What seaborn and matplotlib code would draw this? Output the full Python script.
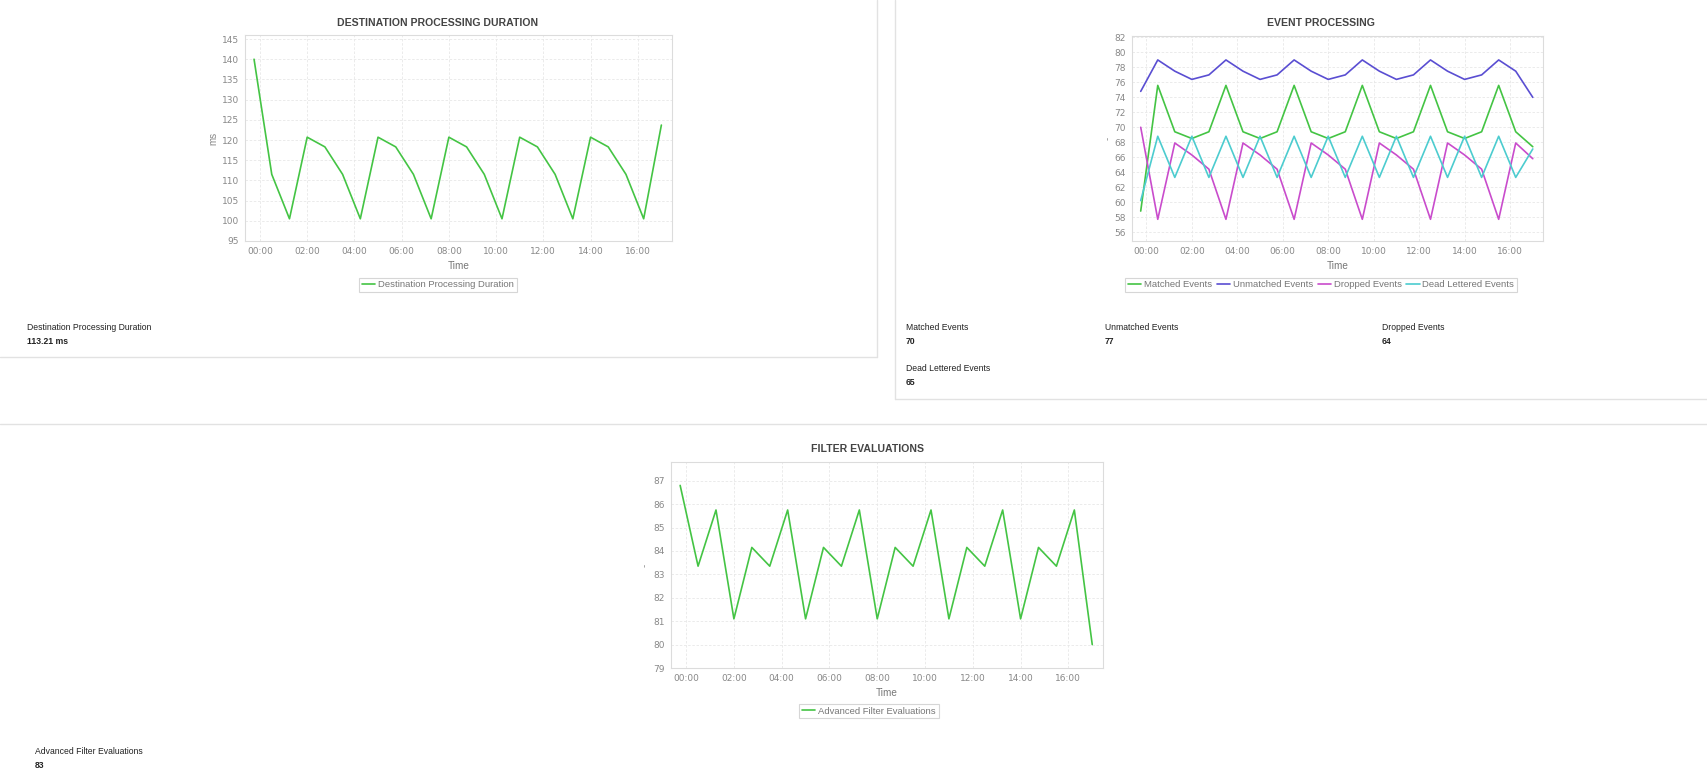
import numpy as np
import pandas as pd
import matplotlib
matplotlib.use("Agg")
import matplotlib.pyplot as plt
import matplotlib.dates as mdates
from matplotlib.lines import Line2D
import seaborn as sns

# waktu sampel (interval 45 menit), titik pertama dari hari sebelumnya
times = ["2024-01-01 23:45", "2024-01-02 00:30", "2024-01-02 01:15", "2024-01-02 02:00",
         "2024-01-02 02:45", "2024-01-02 03:30", "2024-01-02 04:15", "2024-01-02 05:00",
         "2024-01-02 05:45", "2024-01-02 06:30", "2024-01-02 07:15", "2024-01-02 08:00",
         "2024-01-02 08:45", "2024-01-02 09:30", "2024-01-02 10:15", "2024-01-02 11:00",
         "2024-01-02 11:45", "2024-01-02 12:30", "2024-01-02 13:15", "2024-01-02 14:00",
         "2024-01-02 14:45", "2024-01-02 15:30", "2024-01-02 16:15", "2024-01-02 17:00"]

dest_duration = [140.0, 111.5, 100.5, 120.7, 118.3, 111.5, 100.5, 120.7, 118.3, 111.5,
                 100.5, 120.7, 118.3, 111.5, 100.5, 120.7, 118.3, 111.5, 100.5, 120.7,
                 118.3, 111.5, 100.5, 123.7]

matched = [58.8, 75.6, 69.4, 68.5, 69.4, 75.6, 69.4, 68.5, 69.4, 75.6, 69.4, 68.5,
           69.4, 75.6, 69.4, 68.5, 69.4, 75.6, 69.4, 68.5, 69.4, 75.6, 69.4, 67.4]
unmatched = [74.8, 79.0, 77.5, 76.4, 77.0, 79.0, 77.5, 76.4, 77.0, 79.0, 77.5, 76.4,
             77.0, 79.0, 77.5, 76.4, 77.0, 79.0, 77.5, 76.4, 77.0, 79.0, 77.5, 74.0]
dropped = [70.0, 57.7, 67.9, 66.3, 64.4, 57.7, 67.9, 66.3, 64.4, 57.7, 67.9, 66.3,
           64.4, 57.7, 67.9, 66.3, 64.4, 57.7, 67.9, 66.3, 64.4, 57.7, 67.9, 65.8]
dead_lettered = [60.2, 68.8, 63.3, 68.8, 63.3, 68.8, 63.3, 68.8, 63.3, 68.8, 63.3, 68.8,
                 63.3, 68.8, 63.3, 68.8, 63.3, 68.8, 63.3, 68.8, 63.3, 68.8, 63.3, 67.1]

filter_evals = [86.8, 83.35, 85.75, 81.1, 84.15, 83.35, 85.75, 81.1, 84.15, 83.35,
                85.75, 81.1, 84.15, 83.35, 85.75, 81.1, 84.15, 83.35, 85.75, 81.1,
                84.15, 83.35, 85.75, 80.0]

# ringkasan nilai di bawah grafik
summary_dest = ("Destination Processing Duration", "113.21 ms")
summary_events = [("Matched Events", "70"), ("Unmatched Events", "77"),
                  ("Dropped Events", "64"), ("Dead Lettered Events", "65")]
summary_filter = ("Advanced Filter Evaluations", "83")

event_names = ["Matched Events", "Unmatched Events", "Dropped Events", "Dead Lettered Events"]
colors = {"Matched Events": "#44c444", "Unmatched Events": "#5a4ed2",
          "Dropped Events": "#c94ccc", "Dead Lettered Events": "#4ccccf"}

t = pd.to_datetime(times)
df_dest = pd.DataFrame({"Time": t, "value": dest_duration})
df_filter = pd.DataFrame({"Time": t, "value": filter_evals})
df_events = pd.DataFrame({"Time": t, "Matched Events": matched, "Unmatched Events": unmatched,
                          "Dropped Events": dropped, "Dead Lettered Events": dead_lettered})
df_events = df_events.melt(id_vars="Time", var_name="series", value_name="value")

sns.set_style("whitegrid")
plt.rcParams['font.family'] = ['Liberation Sans', 'DejaVu Sans']

W, H = 1708, 777
fig = plt.figure(figsize=(W / 100, H / 100), dpi=100)


def rect(left, top, right, bottom):
    return [left / W, 1 - bottom / H, (right - left) / W, (bottom - top) / H]


def fx(px):
    return px / W


def fy(py):
    return 1 - py / H


xmin = pd.Timestamp("2024-01-01 23:22")
xmax = pd.Timestamp("2024-01-02 17:27")


def style_axis(ax, yticks, ylim):
    ax.set_xlim(xmin, xmax)
    ax.set_ylim(*ylim)
    ax.set_yticks(yticks)
    ax.xaxis.set_major_locator(mdates.HourLocator(byhour=range(0, 24, 2)))
    ax.xaxis.set_major_formatter(mdates.DateFormatter("%H:%M"))
    ax.grid(True, color="#e8e8e8", linestyle=(0, (3, 2)), linewidth=0.6)
    for s in ax.spines.values():
        s.set_color("#dcdcdc")
        s.set_linewidth(0.8)
    ax.tick_params(axis="both", which="major", length=2, width=0.6, color="#aaaaaa",
                   labelsize=6.5, labelcolor="#888888", pad=2.5)
    for lab in ax.get_xticklabels() + ax.get_yticklabels():
        lab.set_family("DejaVu Sans")
    ax.set_xlabel("Time", fontsize=7.2, color="#777777", labelpad=3.5)
    ax.set_ylabel("")


def place_legend(ax, cx, cy, ncol):
    handles, labels = ax.get_legend_handles_labels()
    if ax.get_legend() is not None:
        ax.get_legend().remove()
    leg = fig.legend(handles, labels, loc="center", bbox_to_anchor=(fx(cx), fy(cy)),
                     ncol=ncol, fontsize=6.8, frameon=True, fancybox=False,
                     handlelength=1.4, handletextpad=0.3, columnspacing=0.5,
                     borderpad=0.3, labelcolor="#777777")
    leg.get_frame().set_edgecolor("#cccccc")
    leg.get_frame().set_linewidth(0.8)


# Destination Processing Duration
ax1 = fig.add_axes(rect(245, 35, 672, 241))
sns.lineplot(data=df_dest, x="Time", y="value", ax=ax1, color="#44c444", linewidth=1.2,
             label="Destination Processing Duration")
style_axis(ax1, np.arange(95, 146, 5), (95, 146))
fig.text(fx(213), fy(138), "ms", rotation=90, ha="center", va="center", fontsize=7, color="#888888")
fig.text(fx(438), fy(23), "DESTINATION PROCESSING DURATION", ha="center", va="center",
         fontsize=7.6, fontweight="bold", color="#444444")
place_legend(ax1, 438, 285, 1)

# Event Processing
ax2 = fig.add_axes(rect(1132, 36, 1543, 241))
sns.lineplot(data=df_events, x="Time", y="value", hue="series", hue_order=event_names,
             palette=colors, ax=ax2, linewidth=1.2)
style_axis(ax2, np.arange(56, 83, 2), (54.8, 82.2))
fig.text(fx(1108), fy(138), "-", rotation=90, ha="center", va="center", fontsize=7, color="#888888")
fig.text(fx(1321), fy(23), "EVENT PROCESSING", ha="center", va="center",
         fontsize=7.6, fontweight="bold", color="#444444")
place_legend(ax2, 1321, 285, 4)

# Filter Evaluations
ax3 = fig.add_axes(rect(671, 462, 1103, 668))
sns.lineplot(data=df_filter, x="Time", y="value", ax=ax3, color="#44c444", linewidth=1.2,
             label="Advanced Filter Evaluations")
style_axis(ax3, np.arange(79, 88, 1), (79, 87.8))
fig.text(fx(645), fy(565), "-", rotation=90, ha="center", va="center", fontsize=7, color="#888888")
fig.text(fx(868), fy(449), "FILTER EVALUATIONS", ha="center", va="center",
         fontsize=7.6, fontweight="bold", color="#444444")
place_legend(ax3, 869, 711, 1)

# garis batas panel
border = "#e2e2e2"
for xs, ys in [([877, 877], [0, 357]), ([0, 877], [357, 357]),
               ([895, 895], [0, 399]), ([895, W], [399, 399]),
               ([0, W], [424, 424])]:
    fig.add_artist(Line2D([fx(x) for x in xs], [fy(y) for y in ys], color=border, linewidth=1.0))


def summary(x, y, label, value):
    fig.text(fx(x), fy(y), label, ha="left", va="center", fontsize=6.2, color="#222222")
    fig.text(fx(x), fy(y + 13), value, ha="left", va="center", fontsize=6.2,
             fontweight="bold", color="#222222")


summary(27, 328, *summary_dest)
summary(906, 328, *summary_events[0])
summary(1105, 328, *summary_events[1])
summary(1382, 328, *summary_events[2])
summary(906, 369, *summary_events[3])
summary(35, 752, *summary_filter)

fig.savefig("out.png", dpi=100, facecolor="white")
